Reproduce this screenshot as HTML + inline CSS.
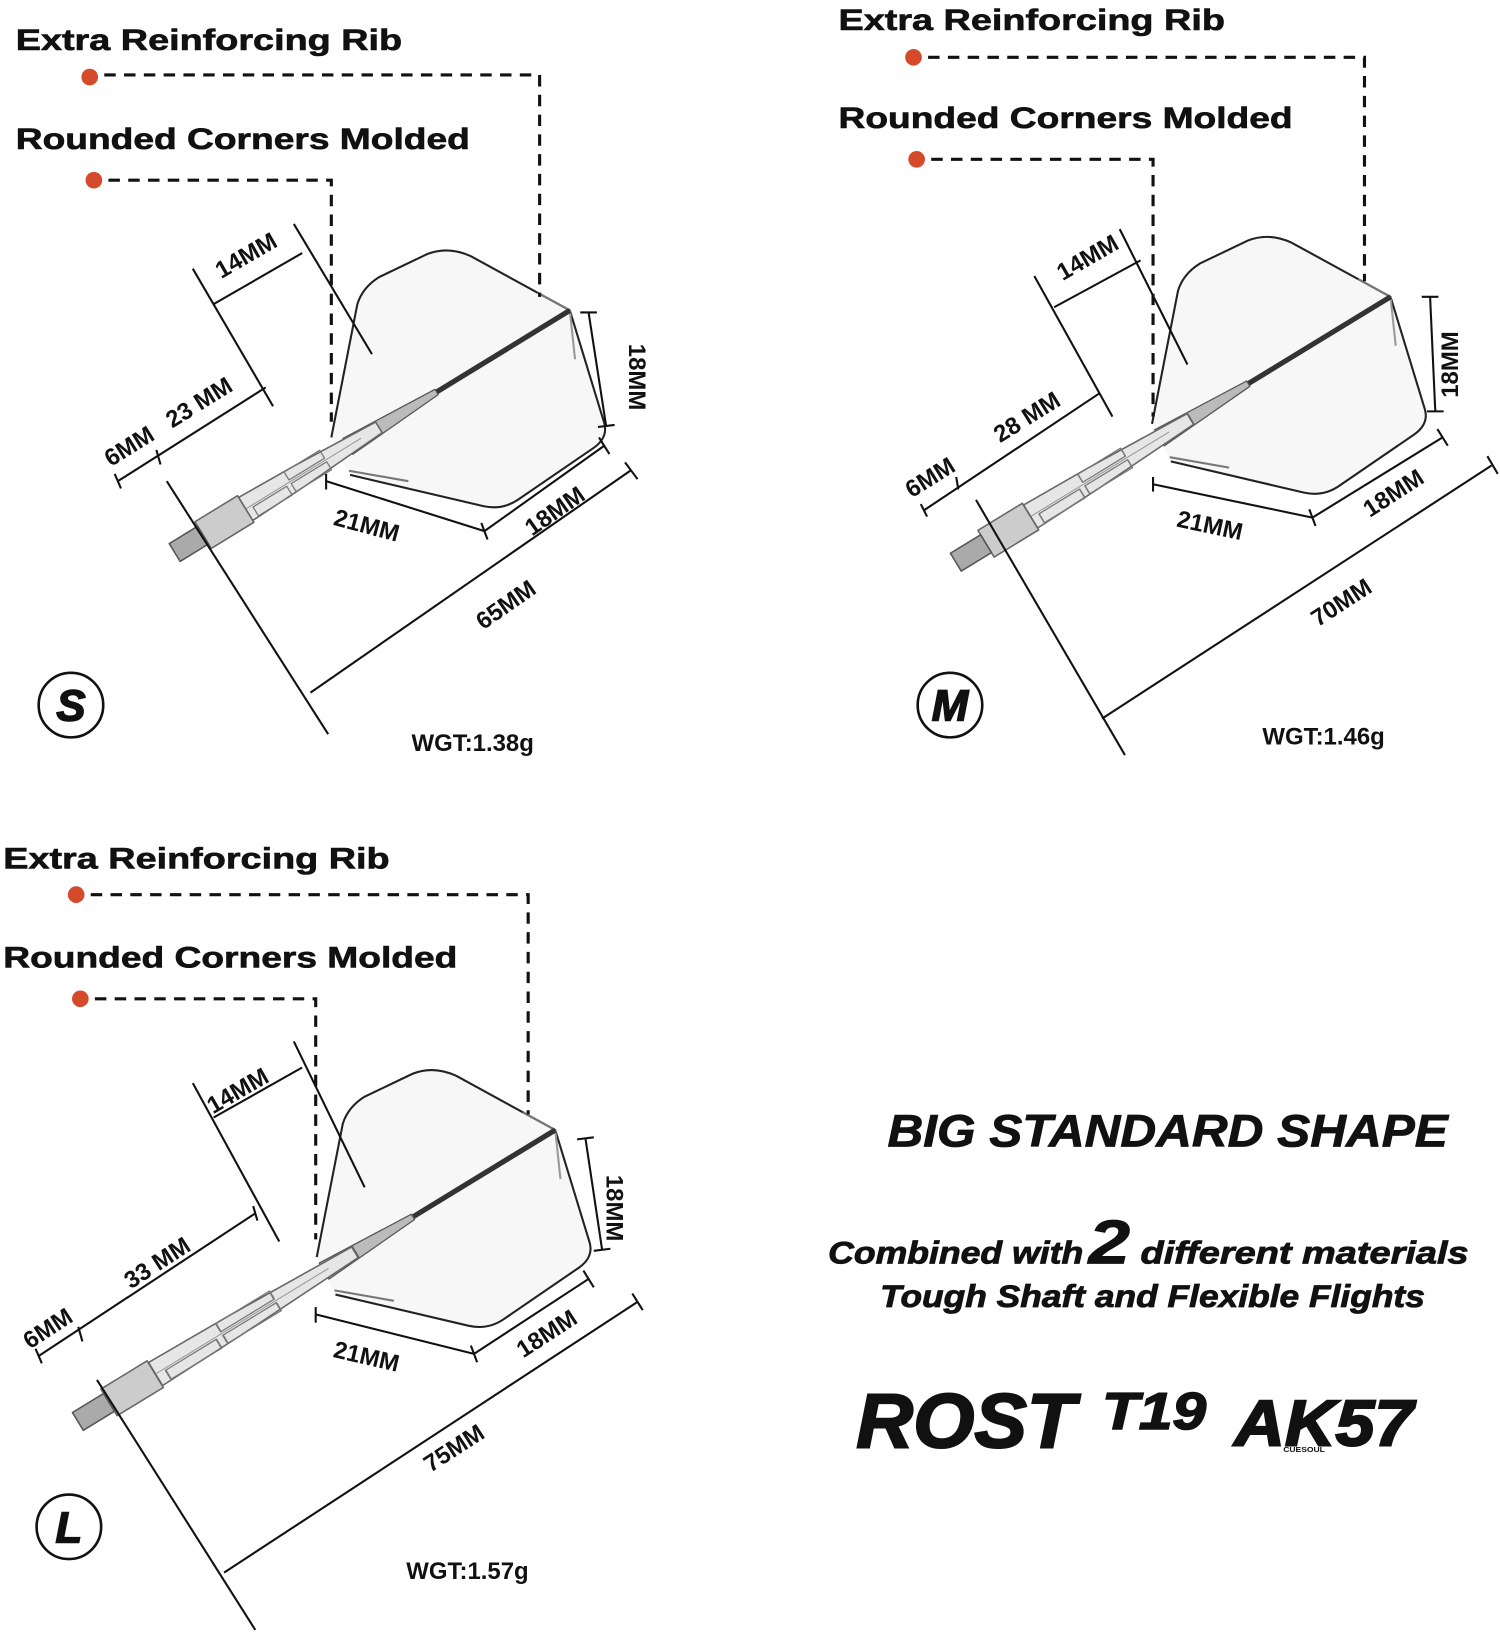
<!DOCTYPE html>
<html><head><meta charset="utf-8"><style>
html,body{margin:0;padding:0;background:#fff;}
svg{display:block;}
text{font-family:"Liberation Sans",sans-serif;font-weight:bold;fill:#111;}
</style></head><body>
<svg width="1500" height="1632" viewBox="0 0 1440 1567" xmlns="http://www.w3.org/2000/svg">
<defs>
<g id="flight">
<path d="M318,420 L343,292 Q348,276 364,266 L410,244 Q430,236 452,246 L547,298 L580,406 Q584,420 570,430 L497,480 Q482,490 464,486 L336,456" fill="#f7f7f7" stroke="#222" stroke-width="2"/>
<line x1="335" y1="452" x2="392" y2="462" stroke="#777" stroke-width="2"/>
<line x1="516" y1="281" x2="547" y2="298" stroke="#777" stroke-width="2"/>
<line x1="547" y1="298" x2="552" y2="345" stroke="#999" stroke-width="2"/>
</g>
<g id="tube">
<polygon points="0,-6 90,-11 150,-13 150,13 90,11 0,6" fill="#e6e6e6" stroke="#666" stroke-width="1.5"/>
<line x1="20" y1="0" x2="150" y2="0" stroke="#999" stroke-width="1"/>
<rect x="60" y="-11" width="40" height="9" fill="none" stroke="#777" stroke-width="1.2"/>
<rect x="105" y="-12" width="38" height="10" fill="none" stroke="#777" stroke-width="1.2"/>
<rect x="60" y="2" width="40" height="9" fill="none" stroke="#777" stroke-width="1.2"/>
</g>
</defs>
<use href="#flight"/>
<use href="#flight" transform="translate(788,-13)"/>
<use href="#flight" transform="translate(-14,787)"/>

<!-- shafts -->
<g stroke-linejoin="round">
<g transform="translate(547,298) rotate(148.5)">
<line x1="0" y1="0" x2="250" y2="0" stroke="#333" stroke-width="5"/>
<polygon points="150,-3 250,-9 250,9 150,3" fill="#bbb" stroke="#555" stroke-width="1.2"/>
<use href="#tube" transform="translate(215,0) scale(1,1)"/>
<rect x="365" y="-15" width="48" height="30" fill="#ccc" stroke="#666" stroke-width="1.5"/>
<rect x="413" y="-10" width="32" height="20" fill="#aaa" stroke="#555" stroke-width="1.5"/>
</g>
<g transform="translate(1335,285) rotate(148.6)">
<line x1="0" y1="0" x2="260" y2="0" stroke="#333" stroke-width="5"/>
<polygon points="160,-3 260,-9 260,9 160,3" fill="#bbb" stroke="#555" stroke-width="1.2"/>
<use href="#tube" transform="translate(225,0) scale(1.2,1)"/>
<rect x="405" y="-15" width="50" height="30" fill="#ccc" stroke="#666" stroke-width="1.5"/>
<rect x="455" y="-10" width="34" height="20" fill="#aaa" stroke="#555" stroke-width="1.5"/>
</g>
<g transform="translate(533,1085) rotate(148.6)">
<line x1="0" y1="0" x2="260" y2="0" stroke="#333" stroke-width="5"/>
<polygon points="160,-3 260,-9 260,9 160,3" fill="#bbb" stroke="#555" stroke-width="1.2"/>
<use href="#tube" transform="translate(225,0) scale(1.5,1)"/>
<rect x="450" y="-15" width="52" height="30" fill="#ccc" stroke="#666" stroke-width="1.5"/>
<rect x="502" y="-10" width="35" height="20" fill="#aaa" stroke="#555" stroke-width="1.5"/>
</g>
</g>

<!-- labels & dashed leaders -->
<g fill="none" stroke="#111" stroke-width="3" stroke-dasharray="11,8">
<polyline points="100,72 518,72 518,285"/>
<polyline points="104,173 318,173 318,405"/>
<polyline points="891,55 1310,55 1310,270"/>
<polyline points="894,153 1107,153 1107,400"/>
<polyline points="87,859 507,859 507,1070"/>
<polyline points="91,959 303,959 303,1190"/>
</g>
<g fill="#d64a2c">
<circle cx="86" cy="74" r="8"/><circle cx="90" cy="173" r="8"/>
<circle cx="877" cy="55" r="8"/><circle cx="880" cy="153" r="8"/>
<circle cx="73" cy="859" r="8"/><circle cx="77" cy="959" r="8"/>
</g>
<g font-size="28" stroke="#111" stroke-width="0.6">
<text x="15" y="48" textLength="371" lengthAdjust="spacingAndGlyphs">Extra Reinforcing Rib</text>
<text x="15" y="143" textLength="436" lengthAdjust="spacingAndGlyphs">Rounded Corners Molded</text>
<text x="805" y="29" textLength="371" lengthAdjust="spacingAndGlyphs">Extra Reinforcing Rib</text>
<text x="805" y="123" textLength="436" lengthAdjust="spacingAndGlyphs">Rounded Corners Molded</text>
<text x="3" y="834" textLength="371" lengthAdjust="spacingAndGlyphs">Extra Reinforcing Rib</text>
<text x="3" y="929" textLength="436" lengthAdjust="spacingAndGlyphs">Rounded Corners Molded</text>
</g>

<!-- dimension lines -->
<g stroke="#111" stroke-width="2" fill="none">
<!-- S -->
<line x1="185" y1="258" x2="262" y2="390"/><line x1="282" y1="215" x2="357" y2="340"/>
<line x1="205" y1="292" x2="290" y2="243"/>
<line x1="113" y1="462" x2="255" y2="372"/><line x1="150" y1="432" x2="154" y2="446"/><line x1="110" y1="455" x2="116" y2="469"/>
<line x1="160" y1="462" x2="315" y2="705"/>
<line x1="298" y1="665" x2="605" y2="452"/><line x1="600" y1="444" x2="612" y2="460"/>
<line x1="313" y1="462" x2="465" y2="510"/><line x1="313" y1="455" x2="313" y2="470"/>
<line x1="465" y1="510" x2="580" y2="428"/><line x1="575" y1="420" x2="585" y2="436"/><line x1="462" y1="502" x2="468" y2="518"/>
<line x1="565" y1="300" x2="582" y2="410"/><line x1="557" y1="300" x2="573" y2="300"/><line x1="574" y1="410" x2="590" y2="408"/>
<!-- M -->
<line x1="993" y1="265" x2="1068" y2="400"/><line x1="1075" y1="220" x2="1140" y2="350"/>
<line x1="1012" y1="295" x2="1095" y2="250"/>
<line x1="887" y1="490" x2="1055" y2="378"/><line x1="918" y1="458" x2="920" y2="470"/><line x1="884" y1="484" x2="890" y2="496"/>
<line x1="937" y1="480" x2="1080" y2="725"/>
<line x1="1058" y1="690" x2="1432" y2="447"/><line x1="1428" y1="438" x2="1438" y2="455"/>
<line x1="1107" y1="465" x2="1260" y2="497"/><line x1="1107" y1="458" x2="1107" y2="472"/>
<line x1="1260" y1="497" x2="1385" y2="420"/><line x1="1380" y1="412" x2="1390" y2="428"/><line x1="1257" y1="489" x2="1263" y2="505"/>
<line x1="1373" y1="285" x2="1378" y2="395"/><line x1="1365" y1="285" x2="1381" y2="285"/><line x1="1370" y1="395" x2="1386" y2="395"/>
<!-- L -->
<line x1="185" y1="1040" x2="268" y2="1192"/><line x1="282" y1="1000" x2="350" y2="1140"/>
<line x1="205" y1="1073" x2="290" y2="1025"/>
<line x1="37" y1="1302" x2="245" y2="1165"/><line x1="75" y1="1274" x2="79" y2="1288"/><line x1="34" y1="1295" x2="40" y2="1309"/><line x1="243" y1="1158" x2="247" y2="1172"/>
<line x1="93" y1="1325" x2="245" y2="1565"/>
<line x1="215" y1="1510" x2="612" y2="1250"/><line x1="607" y1="1242" x2="617" y2="1258"/>
<line x1="303" y1="1262" x2="455" y2="1300"/><line x1="303" y1="1255" x2="303" y2="1270"/>
<line x1="455" y1="1300" x2="565" y2="1228"/><line x1="560" y1="1220" x2="570" y2="1236"/><line x1="452" y1="1292" x2="458" y2="1308"/>
<line x1="562" y1="1093" x2="578" y2="1200"/><line x1="554" y1="1094" x2="570" y2="1092"/><line x1="570" y1="1201" x2="586" y2="1199"/>
</g>

<g font-size="23">
<!-- S -->
<text transform="translate(240,252) rotate(-30)" text-anchor="middle">14MM</text>
<text transform="translate(195,393) rotate(-32)" text-anchor="middle">23 MM</text>
<text transform="translate(128,435) rotate(-32)" text-anchor="middle">6MM</text>
<text transform="translate(350,512) rotate(15)" text-anchor="middle">21MM</text>
<text transform="translate(537,497) rotate(-35)" text-anchor="middle">18MM</text>
<text transform="translate(490,587) rotate(-35)" text-anchor="middle">65MM</text>
<text transform="translate(604,362) rotate(90)" text-anchor="middle">18MM</text>
<!-- M -->
<text transform="translate(1048,254) rotate(-30)" text-anchor="middle">14MM</text>
<text transform="translate(990,407) rotate(-32)" text-anchor="middle">28 MM</text>
<text transform="translate(897,465) rotate(-32)" text-anchor="middle">6MM</text>
<text transform="translate(1160,512) rotate(12)" text-anchor="middle">21MM</text>
<text transform="translate(1342,480) rotate(-33)" text-anchor="middle">18MM</text>
<text transform="translate(1292,585) rotate(-33)" text-anchor="middle">70MM</text>
<text transform="translate(1400,350) rotate(-90)" text-anchor="middle">18MM</text>
<!-- L -->
<text transform="translate(232,1054) rotate(-30)" text-anchor="middle">14MM</text>
<text transform="translate(155,1219) rotate(-33)" text-anchor="middle">33 MM</text>
<text transform="translate(50,1282) rotate(-33)" text-anchor="middle">6MM</text>
<text transform="translate(350,1310) rotate(13)" text-anchor="middle">21MM</text>
<text transform="translate(529,1287) rotate(-33)" text-anchor="middle">18MM</text>
<text transform="translate(440,1397) rotate(-33)" text-anchor="middle">75MM</text>
<text transform="translate(582,1160) rotate(90)" text-anchor="middle">18MM</text>
</g>

<!-- size circles -->
<g fill="none" stroke="#111" stroke-width="2.5">
<circle cx="68" cy="677" r="31"/><circle cx="912" cy="677" r="31"/><circle cx="66" cy="1466" r="31"/>
</g>
<g font-size="42" font-style="italic" text-anchor="middle" stroke="#111" stroke-width="1.5">
<text x="68" y="692">S</text><text x="912" y="692">M</text><text x="66" y="1481">L</text>
</g>
<g font-size="23">
<text x="395" y="721">WGT:1.38g</text>
<text x="1212" y="715">WGT:1.46g</text>
<text x="390" y="1516">WGT:1.57g</text>
</g>

<!-- right text -->
<g font-style="italic" stroke="#111" stroke-width="0.8">
<text x="852" y="1101" font-size="44" textLength="538" lengthAdjust="spacingAndGlyphs">BIG STANDARD SHAPE</text>
<text x="795" y="1213" font-size="30" textLength="245" lengthAdjust="spacingAndGlyphs">Combined with</text>
<text x="1045" y="1213" font-size="60" textLength="40" lengthAdjust="spacingAndGlyphs">2</text>
<text x="1095" y="1213" font-size="30" textLength="315" lengthAdjust="spacingAndGlyphs">different materials</text>
<text x="845" y="1255" font-size="30" textLength="523" lengthAdjust="spacingAndGlyphs">Tough Shaft and Flexible Flights</text>
<text x="822" y="1390" font-size="74" textLength="210" lengthAdjust="spacingAndGlyphs" stroke-width="2">ROST</text>
<text x="1058" y="1372" font-size="50" textLength="100" lengthAdjust="spacingAndGlyphs" stroke-width="1.5">T19</text>
<text x="1185" y="1388" font-size="62" textLength="172" lengthAdjust="spacingAndGlyphs" stroke-width="2">AK57</text>
</g>
<text x="1232" y="1394" font-size="7" textLength="40" lengthAdjust="spacingAndGlyphs">CUESOUL</text>
</svg>
</body></html>
